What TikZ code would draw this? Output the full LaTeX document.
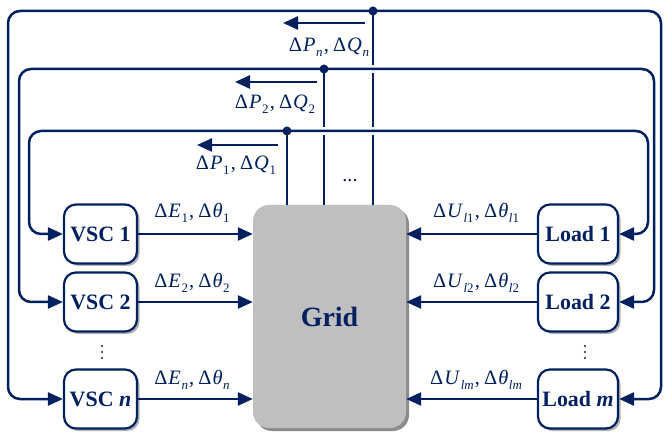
\documentclass[tikz,border=0pt]{standalone}
\usepackage{fontspec}
\setmainfont{Liberation Serif}
\usetikzlibrary{arrows.meta,shadows}
\definecolor{navy}{RGB}{0,32,96}
\definecolor{gridgray}{RGB}{191,191,191}
\newcommand\dsub[1]{\raisebox{-0.5ex}{\fontsize{13}{13}\selectfont #1}}
\newcommand\dq[2]{Δ\kern0.05em\textit{#1}\kern0.03em\dsub{#2}}
\newcommand\pairlbl[4]{\dq{#1}{#2}\kern0.06em,\kern0.2em\dq{#3}{#4}}
\begin{document}
\begin{tikzpicture}[x=1bp,y=-1bp,
  fb/.style={draw=navy,line width=2.5bp,rounded corners=12bp},
  arr/.style={-{Triangle[length=15bp,width=13bp]}},
  halo/.style={draw=white,line width=8.5bp},
  box/.style={draw=navy,line width=2.2bp,fill=white,rounded corners=12bp,
    minimum width=73bp,minimum height=59bp,inner sep=0pt,text=navy,
    font=\fontsize{22}{24}\selectfont\bfseries,
    drop shadow={shadow xshift=2.5bp,shadow yshift=-2.5bp,fill=black!30,opacity=1}},
  gridbox/.style={fill=gridgray,rounded corners=16bp,
    minimum width=153bp,minimum height=223bp,inner sep=0pt,text=navy,
    font=\fontsize{28}{30}\selectfont\bfseries,
    drop shadow={shadow xshift=3bp,shadow yshift=-3bp,fill=black!45,opacity=1}},
  lbl/.style={text=navy,inner sep=0pt,font=\fontsize{20.5}{22}\selectfont},
  dotsym/.style={fill=navy}]
\useasboundingbox (0,0) rectangle (664,434);

% blocks
\node[gridbox] (grid) at (329.5,316.5) {Grid};
\node[box] (v1) at (100.5,234) {VSC 1};
\node[box] (v2) at (100.5,302) {VSC 2};
\node[box] (vn) at (100.5,399) {VSC \textit{n}};
\node[box,minimum width=80bp] (l1) at (578,234) {Load 1};
\node[box,minimum width=80bp] (l2) at (578,302) {Load 2};
\node[box,minimum width=80bp] (lm) at (578,399) {Load \textit{m}};

% forward arrows
\draw[fb,arr] (v1.east) -- (v1.east -| grid.west);
\draw[fb,arr] (v2.east) -- (v2.east -| grid.west);
\draw[fb,arr] (vn.east) -- (vn.east -| grid.west);
\draw[fb,arr] (l1.west) -- (l1.west -| grid.east);
\draw[fb,arr] (l2.west) -- (l2.west -| grid.east);
\draw[fb,arr] (lm.west) -- (lm.west -| grid.east);

% labels on forward arrows
\node[lbl] (e1) at (192,213) {\pairlbl{E}{1}{θ}{1}};
\node[lbl] (e2) at (192,283) {\pairlbl{E}{2}{θ}{2}};
\node[lbl] (en) at (192,380) {\pairlbl{E}{\textit{n}}{θ}{\textit{n}}};
\node[lbl] (u1) at (476,213) {\pairlbl{U}{\textit{l}1}{θ}{\textit{l}1}};
\node[lbl] (u2) at (476,283) {\pairlbl{U}{\textit{l}2}{θ}{\textit{l}2}};
\node[lbl] (um) at (476,380) {\pairlbl{U}{\textit{lm}}{θ}{\textit{lm}}};

% junction points
\coordinate (d1) at (287,131);
\coordinate (d2) at (324,69);
\coordinate (dn) at (373,11);

% measurement lines from the grid
\draw[fb] (d1) -- (d1 |- grid.north);
\draw[fb] (d2) -- (d2 |- grid.north);
\draw[fb] (dn) -- (dn |- grid.north);
\node[lbl] (dd) at (350,181) {...};

% corners of the feedback loops
\coordinate (a1) at (29,131);  \coordinate (b1) at (29,234);
\coordinate (c1) at (648,131); \coordinate (f1) at (648,234);
\coordinate (a2) at (19,69);   \coordinate (b2) at (19,302);
\coordinate (c2) at (654,69);  \coordinate (f2) at (654,302);
\coordinate (an) at (8,11);    \coordinate (bn) at (8,399);
\coordinate (cn) at (661,11);  \coordinate (fn) at (661,399);

% gaps where loops cross the measurement lines
\draw[halo] (d1) -- (c1);
\draw[halo] (d2) -- (c2);

% feedback loops
\draw[fb,arr] (d1) -- (a1) -- (b1) -- (v1.west);
\draw[fb,arr] (d1) -- (c1) -- (f1) -- (l1.east);
\draw[fb,arr] (d2) -- (a2) -- (b2) -- (v2.west);
\draw[fb,arr] (d2) -- (c2) -- (f2) -- (l2.east);
\draw[fb,arr] (dn) -- (an) -- (bn) -- (vn.west);
\draw[fb,arr] (dn) -- (cn) -- (fn) -- (lm.east);

\fill[dotsym] (d1) circle (4.5bp);
\fill[dotsym] (d2) circle (4.5bp);
\fill[dotsym] (dn) circle (4.5bp);

% power-signal arrows
\coordinate (p1s) at (278,145); \coordinate (p1e) at (197,145);
\coordinate (p2s) at (317,82);  \coordinate (p2e) at (235,82);
\coordinate (pns) at (365,23);  \coordinate (pne) at (283,23);
\draw[fb,arr] (p1s) -- (p1e);
\draw[fb,arr] (p2s) -- (p2e);
\draw[fb,arr] (pns) -- (pne);
\node[lbl] (q1) at (236,165) {\pairlbl{P}{1}{Q}{1}};
\node[lbl] (q2) at (275,104) {\pairlbl{P}{2}{Q}{2}};
\node[lbl] (qn) at (329,47) {\pairlbl{P}{\textit{n}}{Q}{\textit{n}}};

% vertical ellipses
\foreach \yy in {346,352,358} {
  \fill[dotsym] (102,\yy) circle (1.2bp);
  \fill[dotsym] (585,\yy) circle (1.2bp);
}
\end{tikzpicture}
\end{document}
